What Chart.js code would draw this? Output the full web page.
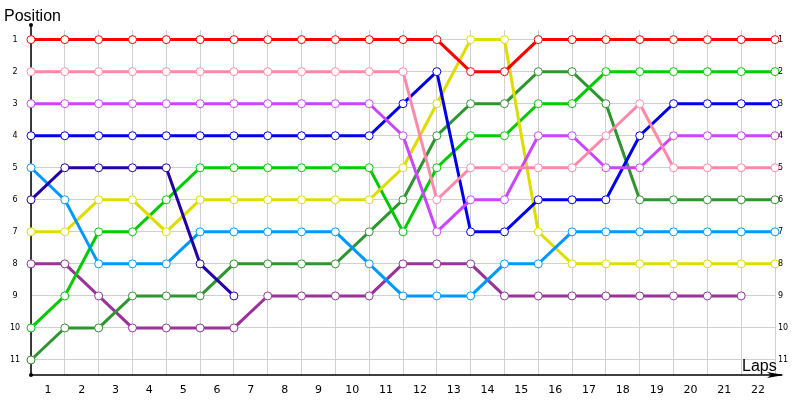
<!DOCTYPE html>
<html>
<head>
<meta charset="utf-8">
<title>Lap chart</title>
<script src="https://cdn.jsdelivr.net/npm/chart.js@4/dist/chart.umd.min.js"></script>
<style>
    html, body { margin: 0; padding: 0; background: #fff; }
    #wrap { width: 800px; height: 400px; position: relative; }
</style>
</head>
<body>
<div id="wrap"><canvas id="lapChart"></canvas></div>
<script>
// Lap numbers (x) and race positions (y)
const laps = [0, 1, 2, 3, 4, 5, 6, 7, 8, 9, 10, 11, 12, 13, 14, 15, 16, 17, 18, 19, 20, 21, 22];
const positions = [1, 2, 3, 4, 5, 6, 7, 8, 9, 10, 11];
const lapTickLabels = ['1', '2', '3', '4', '5', '6', '7', '8', '9', '10', '11', '12', '13', '14', '15', '16', '17', '18', '19', '20', '21', '22'];

const redCar       = [1, 1, 1, 1, 1, 1, 1, 1, 1, 1, 1, 1, 1, 2, 2, 1, 1, 1, 1, 1, 1, 1, 1];
const pinkCar      = [2, 2, 2, 2, 2, 2, 2, 2, 2, 2, 2, 2, 6, 5, 5, 5, 5, 4, 3, 5, 5, 5, 5];
const violetCar    = [3, 3, 3, 3, 3, 3, 3, 3, 3, 3, 3, 4, 7, 6, 6, 4, 4, 5, 5, 4, 4, 4, 4];
const blueCar      = [4, 4, 4, 4, 4, 4, 4, 4, 4, 4, 4, 3, 2, 7, 7, 6, 6, 6, 4, 3, 3, 3, 3];
const navyCar      = [6, 5, 5, 5, 5, 8, 9];
const skyCar       = [5, 6, 8, 8, 8, 7, 7, 7, 7, 7, 8, 9, 9, 9, 8, 8, 7, 7, 7, 7, 7, 7, 7];
const yellowCar    = [7, 7, 6, 6, 7, 6, 6, 6, 6, 6, 6, 5, 3, 1, 1, 7, 8, 8, 8, 8, 8, 8, 8];
const greenCar     = [10, 9, 7, 7, 6, 5, 5, 5, 5, 5, 5, 7, 5, 4, 4, 3, 3, 2, 2, 2, 2, 2, 2];
const darkGreenCar = [11, 10, 10, 9, 9, 9, 8, 8, 8, 8, 7, 6, 4, 3, 3, 2, 2, 3, 6, 6, 6, 6, 6];
const purpleCar    = [8, 8, 9, 10, 10, 10, 10, 9, 9, 9, 9, 8, 8, 8, 9, 9, 9, 9, 9, 9, 9, 9];

const series = [
    { name: 'Red', data: redCar, color: '#ff0000' },
    { name: 'Pink', data: pinkCar, color: '#ff88aa' },
    { name: 'Violet', data: violetCar, color: '#cc44ff' },
    { name: 'Blue', data: blueCar, color: '#0000ee' },
    { name: 'Navy', data: navyCar, color: '#2200aa' },
    { name: 'Sky', data: skyCar, color: '#0099ff' },
    { name: 'Yellow', data: yellowCar, color: '#dddd00' },
    { name: 'Green', data: greenCar, color: '#00cc00' },
    { name: 'Dark green', data: darkGreenCar, color: '#2e962e' },
    { name: 'Purple', data: purpleCar, color: '#993399' }
];

// Axis lines, arrow, titles and the tick labels on both sides
const axisDecor = {
    id: 'axisDecor',
    beforeDatasetsDraw(chart) {
        const { ctx, chartArea } = chart;
        const left = chartArea.left;
        const bottom = chart.scales.y.getPixelForValue(11.47);
        ctx.save();
        ctx.strokeStyle = '#000';
        ctx.lineWidth = 1.5;
        ctx.beginPath();
        ctx.moveTo(left, 25);
        ctx.lineTo(left, bottom);
        ctx.lineTo(782, bottom);
        ctx.stroke();

        // arrow head on the lap axis
        ctx.fillStyle = '#000';
        ctx.beginPath();
        ctx.moveTo(784, bottom);
        ctx.lineTo(767, bottom - 3);
        ctx.lineTo(771, bottom);
        ctx.lineTo(767, bottom + 3);
        ctx.closePath();
        ctx.fill();

        // dots at the axis ends
        ctx.beginPath();
        ctx.arc(left, 25, 2, 0, Math.PI * 2);
        ctx.arc(left, bottom, 2, 0, Math.PI * 2);
        ctx.fill();
        ctx.restore();
    },
    afterDraw(chart) {
        const { ctx, chartArea } = chart;
        const x = chart.scales.x;
        const y = chart.scales.y;
        ctx.save();
        ctx.fillStyle = '#000';

        ctx.font = '16px "Liberation Sans", Arial, sans-serif';
        ctx.textAlign = 'left';
        ctx.textBaseline = 'alphabetic';
        ctx.fillText('Position', 4, 21);
        ctx.fillText('Laps', 742, 371);

        // position labels, left and right
        ctx.font = '8px "DejaVu Sans", sans-serif';
        ctx.textBaseline = 'middle';
        positions.forEach(p => {
            const py = y.getPixelForValue(p);
            ctx.textAlign = 'center';
            ctx.fillText(String(p), 15, py);
            ctx.textAlign = 'left';
            ctx.fillText(String(p), chartArea.right + 3, py);
        });

        // lap labels sit between the grid lines
        ctx.font = '11px "DejaVu Sans", sans-serif';
        ctx.textAlign = 'center';
        lapTickLabels.forEach((label, i) => {
            const px = (x.getPixelForValue(i) + x.getPixelForValue(i + 1)) / 2;
            ctx.fillText(label, px, 390);
        });
        ctx.restore();
    }
};

const datasets = series.map(s => ({
    label: s.name,
    data: s.data,
    borderColor: s.color,
    backgroundColor: '#ffffff',
    borderWidth: 3,
    pointRadius: 4,
    pointBorderWidth: 1,
    pointBorderColor: s.color,
    pointBackgroundColor: '#ffffff',
    tension: 0,
    fill: false
}));

new Chart(document.getElementById('lapChart'), {
    type: 'line',
    data: { labels: laps, datasets: datasets },
    options: {
        responsive: true,
        maintainAspectRatio: false,
        animation: false,
        layout: { padding: { left: 31, right: 25, top: 30, bottom: 24 } },
        plugins: {
            legend: { display: false },
            tooltip: { enabled: false }
        },
        scales: {
            x: {
                type: 'category',
                offset: false,
                ticks: { display: false },
                border: { display: false },
                grid: { color: '#d0d0d0', lineWidth: 1, drawTicks: false }
            },
            y: {
                type: 'linear',
                reverse: true,
                min: 0.7,
                max: 11.5,
                ticks: { display: false, autoSkip: false },
                border: { display: false },
                grid: { color: '#d0d0d0', lineWidth: 1, drawTicks: false },
                afterBuildTicks: scale => {
                    scale.ticks = positions.map(p => ({ value: p }));
                }
            }
        }
    },
    plugins: [axisDecor]
});
</script>
</body>
</html>
